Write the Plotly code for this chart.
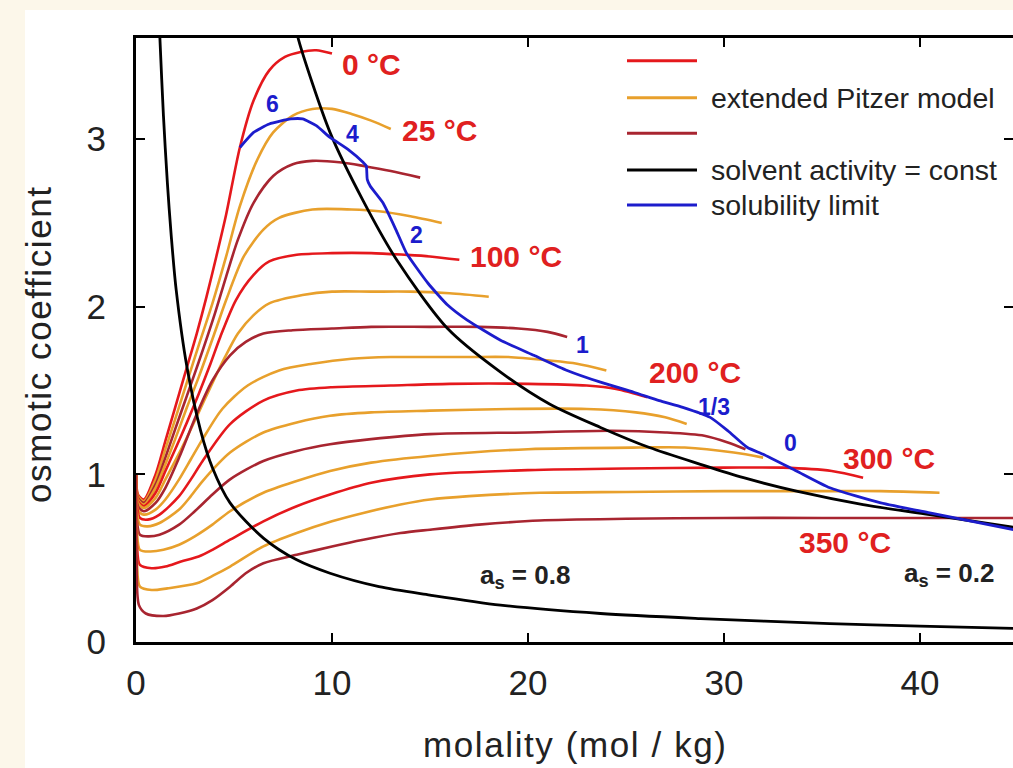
import plotly.graph_objects as go

# ---------------- data ----------------
temps_c = [0, 25, 50, 75, 100, 125, 150, 175, 200, 225, 250, 275, 300, 325, 350]

m_t0 = [0, 0.1, 0.4, 1.0, 1.5, 2.0, 2.6, 3.1, 3.6, 4.1, 4.6, 5.3, 6.0, 6.8, 7.6, 8.4, 9.2, 10.0]
phi_t0 = [1.0, 0.88, 0.85, 1.0, 1.2, 1.40, 1.64, 1.84, 2.06, 2.30, 2.55, 2.95, 3.23, 3.41, 3.49, 3.52, 3.53, 3.51]

m_t25 = [0, 0.1, 0.4, 1.0, 1.5, 2.0, 2.6, 3.2, 3.9, 4.6, 5.3, 6.2, 7.0, 8.0, 9.0, 10.0, 11.0, 12.0, 13.0]
phi_t25 = [1.0, 0.87, 0.84, 0.97, 1.15, 1.33, 1.55, 1.77, 2.02, 2.30, 2.60, 2.88, 3.04, 3.14, 3.18, 3.18, 3.15, 3.11, 3.06]

m_t50 = [0, 0.1, 0.4, 1.0, 1.5, 2.0, 2.6, 3.2, 4.0, 4.6, 5.2, 6.0, 7.0, 8.0, 9.0, 10.5, 11.6, 13.0, 14.5]
phi_t50 = [1.0, 0.86, 0.83, 0.94, 1.10, 1.27, 1.47, 1.67, 1.95, 2.18, 2.40, 2.62, 2.78, 2.85, 2.87, 2.86, 2.84, 2.81, 2.77]

m_t75 = [0, 0.1, 0.4, 1.0, 1.5, 2.0, 2.6, 3.2, 4.0, 4.6, 5.5, 6.5, 7.3, 9.0, 11.0, 12.4, 14.0, 15.6]
phi_t75 = [1.0, 0.85, 0.82, 0.92, 1.06, 1.21, 1.40, 1.58, 1.84, 2.04, 2.30, 2.46, 2.53, 2.58, 2.58, 2.57, 2.54, 2.50]

m_t100 = [0, 0.1, 0.4, 1.0, 1.5, 2.0, 2.6, 3.2, 3.8, 4.3, 5.1, 6.0, 6.8, 8.2, 10, 12, 13.7, 15.0, 16.5]
phi_t100 = [1.0, 0.84, 0.81, 0.89, 1.02, 1.15, 1.31, 1.48, 1.66, 1.82, 2.04, 2.19, 2.27, 2.31, 2.32, 2.32, 2.31, 2.30, 2.28]

m_t125 = [0, 0.1, 0.4, 1.0, 1.5, 2.0, 2.6, 3.2, 3.8, 4.5, 5.2, 6.0, 6.8, 8.5, 10, 12, 14, 16, 18]
phi_t125 = [1.0, 0.83, 0.80, 0.86, 0.97, 1.08, 1.22, 1.37, 1.52, 1.69, 1.84, 1.95, 2.02, 2.07, 2.09, 2.09, 2.09, 2.08, 2.06]

m_t150 = [0, 0.1, 0.4, 1.0, 1.5, 2.2, 3.1, 3.9, 4.8, 5.6, 6.5, 8.0, 10, 12, 15, 17.5, 19.5, 21, 22]
phi_t150 = [1.0, 0.81, 0.78, 0.83, 0.92, 1.10, 1.36, 1.56, 1.71, 1.79, 1.84, 1.86, 1.87, 1.88, 1.88, 1.88, 1.87, 1.85, 1.82]

m_t175 = [0, 0.1, 0.4, 1.0, 1.5, 2.2, 2.8, 3.4, 4.4, 5.7, 7.3, 9.0, 11, 13, 15, 17, 19, 21, 22.5, 24]
phi_t175 = [1.0, 0.79, 0.76, 0.79, 0.85, 0.97, 1.09, 1.21, 1.39, 1.53, 1.62, 1.66, 1.69, 1.70, 1.70, 1.70, 1.70, 1.68, 1.66, 1.62]

m_t200 = [0, 0.05, 0.2, 0.6, 1.2, 2.2, 2.8, 3.4, 4.8, 6.5, 8.2, 10, 13, 16, 20, 23, 24.5, 26.1]
phi_t200 = [1.0, 0.81, 0.74, 0.73, 0.76, 0.87, 0.97, 1.08, 1.30, 1.44, 1.50, 1.52, 1.53, 1.54, 1.54, 1.53, 1.51, 1.46]

m_t225 = [0, 0.05, 0.2, 0.6, 1.2, 2.2, 2.8, 3.4, 4.8, 6.5, 8.2, 9.9, 12, 15, 19, 23, 25.5, 27, 28.1]
phi_t225 = [1.0, 0.77, 0.70, 0.69, 0.71, 0.79, 0.87, 0.96, 1.13, 1.25, 1.31, 1.35, 1.37, 1.38, 1.39, 1.39, 1.37, 1.34, 1.30]

m_t250 = [0, 0.05, 0.2, 0.6, 1.2, 2.2, 3.0, 3.9, 4.8, 6.5, 8.2, 9.9, 12, 15, 20, 24.3, 27, 29, 30.2, 31.1]
phi_t250 = [1.0, 0.72, 0.64, 0.63, 0.64, 0.70, 0.78, 0.88, 0.97, 1.08, 1.14, 1.18, 1.21, 1.24, 1.25, 1.26, 1.25, 1.23, 1.19, 1.15]

m_t275 = [0, 0.05, 0.2, 0.7, 1.4, 2.2, 3.0, 3.9, 4.8, 6.5, 8.2, 9.9, 12, 15, 20, 25.7, 28, 30.5, 32]
phi_t275 = [1.0, 0.66, 0.55, 0.54, 0.55, 0.58, 0.63, 0.70, 0.78, 0.89, 0.96, 1.02, 1.07, 1.11, 1.15, 1.16, 1.16, 1.13, 1.10]

m_t300 = [0, 0.05, 0.2, 0.8, 1.5, 2.3, 3.2, 3.9, 4.8, 6.5, 8.2, 9.9, 12, 15, 20, 25, 30, 33, 35.5, 37.1]
phi_t300 = [1.0, 0.58, 0.46, 0.44, 0.45, 0.48, 0.51, 0.55, 0.61, 0.72, 0.81, 0.88, 0.95, 1.0, 1.025, 1.035, 1.04, 1.04, 1.02, 0.98]

m_t325 = [0, 0.05, 0.2, 0.8, 1.6, 3.1, 4.0, 4.8, 6.5, 8.2, 10, 11.6, 13.5, 15, 17, 20.6, 25, 30, 35, 38, 41]
phi_t325 = [1.0, 0.48, 0.33, 0.31, 0.32, 0.35, 0.40, 0.45, 0.57, 0.65, 0.72, 0.77, 0.82, 0.85, 0.87, 0.89, 0.895, 0.90, 0.90, 0.90, 0.89]

m_t350 = [0, 0.03, 0.15, 0.5, 1.4, 2.2, 3.1, 3.9, 4.8, 5.6, 6.5, 8.2, 10, 11.6, 13.5, 15, 17.5, 20.6, 25, 30, 35, 40, 45]
phi_t350 = [1.0, 0.5, 0.22, 0.17, 0.155, 0.17, 0.20, 0.25, 0.33, 0.41, 0.47, 0.52, 0.57, 0.61, 0.65, 0.67, 0.70, 0.725, 0.735, 0.74, 0.74, 0.74, 0.74]

# solvent activity = const (a_s = 0.8 and a_s = 0.2)
m_as08 = [1.17, 1.22, 1.4, 1.6, 1.8, 2.05, 2.6, 3.3, 3.9, 4.8, 6.5, 8.2, 9.9, 12.4, 15, 18.6, 23.7, 28.8, 35.4, 40, 45]
phi_as08 = [3.75, 3.6, 3.14, 2.74, 2.42, 2.10, 1.64, 1.26, 1.04, 0.83, 0.62, 0.49, 0.41, 0.33, 0.28, 0.22, 0.17, 0.14, 0.11, 0.095, 0.08]

m_as02 = [8.1, 8.3, 9.9, 11.6, 13.3, 15.9, 18.6, 21.1, 23.7, 26.2, 28.8, 31.0, 33.7, 37.1, 40.5, 45]
phi_as02 = [3.7, 3.59, 3.04, 2.63, 2.28, 1.87, 1.61, 1.42, 1.28, 1.16, 1.06, 0.98, 0.90, 0.82, 0.76, 0.68]

# solubility limit
m_sol = [5.3, 6.0, 6.8, 7.9, 8.5, 9.2, 9.9, 10.8, 11.6, 11.75, 11.8, 11.95, 12.6, 13.3, 13.8, 14.9, 15.9,
         16.9, 18.6, 20.3, 22.0, 23.7, 25.4, 26.7, 27.9, 29.3, 30.2, 31.2, 32.0, 33.7, 35.4, 38.0, 40.5, 45]
phi_sol = [2.95, 3.04, 3.09, 3.12, 3.12, 3.08, 3.01, 2.94, 2.86, 2.84, 2.76, 2.72, 2.62, 2.45, 2.32, 2.14, 2.01,
           1.92, 1.80, 1.71, 1.62, 1.55, 1.49, 1.44, 1.40, 1.34, 1.26, 1.16, 1.12, 1.02, 0.92, 0.83, 0.77, 0.665]

# labels
temp_label_text = ["0 °C", "25 °C", "100 °C", "200 °C", "300 °C", "350 °C"]
temp_label_m = [12.04, 15.5, 19.4, 28.5, 38.4, 36.2]
temp_label_phi = [3.443, 3.05, 2.30, 1.61, 1.095, 0.596]

sol_label_text = ["6", "4", "2", "1", "1/3", "0"]
sol_label_m = [6.94, 11.07, 14.3, 22.8, 29.5, 33.4]
sol_label_phi = [3.21, 3.03, 2.43, 1.77, 1.40, 1.19]

as_label_text = ["a<sub>s</sub> = 0.8", "a<sub>s</sub> = 0.2"]
as_label_m = [19.85, 41.5]
as_label_phi = [0.39, 0.40]

legend_text = ["", "extended Pitzer model", "", "solvent activity = const", "solubility limit"]

x_ticks = [0, 10, 20, 30, 40]
y_ticks = [0, 1, 2, 3]

# ---------------- styles ----------------
RED = "#e5181c"
ORANGE = "#e8a02c"
DARKRED = "#a82530"
BLUE = "#1c1ccc"
BLACK = "#000000"
LABEL_RED = "#e02020"
TEXT = "#222222"
FONT = "Liberation Sans, Arial, sans-serif"

curve_m = [m_t0, m_t25, m_t50, m_t75, m_t100, m_t125, m_t150, m_t175,
           m_t200, m_t225, m_t250, m_t275, m_t300, m_t325, m_t350]
curve_phi = [phi_t0, phi_t25, phi_t50, phi_t75, phi_t100, phi_t125, phi_t150, phi_t175,
             phi_t200, phi_t225, phi_t250, phi_t275, phi_t300, phi_t325, phi_t350]
cycle = [RED, ORANGE, DARKRED, ORANGE]

fig = go.Figure()

for i, (t, mx, ph) in enumerate(zip(temps_c, curve_m, curve_phi)):
    fig.add_trace(go.Scatter(x=mx, y=ph, mode="lines", name=f"{t} °C",
                             line=dict(color=cycle[i % 4], width=2.6, shape="spline", smoothing=0.8),
                             showlegend=False, hoverinfo="skip"))

for mx, ph in [(m_as08, phi_as08), (m_as02, phi_as02)]:
    fig.add_trace(go.Scatter(x=mx, y=ph, mode="lines",
                             line=dict(color=BLACK, width=2.8, shape="spline", smoothing=0.8),
                             showlegend=False, hoverinfo="skip"))

fig.add_trace(go.Scatter(x=m_sol, y=phi_sol, mode="lines",
                         line=dict(color=BLUE, width=2.8, shape="spline", smoothing=0.5),
                         showlegend=False, hoverinfo="skip"))

# helper trace for the right-hand y axis (ticks only)
fig.add_trace(go.Scatter(x=[None], y=[None], yaxis="y2", showlegend=False, hoverinfo="skip"))

# ---------------- layout geometry ----------------
W, H = 1013, 768
ML, MR, MT, MB = 136, 0, 38, 126
PW, PH = W - ML - MR, H - MT - MB


def px_to_paper_x(px):
    return (px - ML) / PW


def px_to_paper_y(py):
    return (H - MB - py) / PH


shapes = []
# white panel over cream background
shapes.append(dict(type="rect", xref="paper", yref="paper", layer="below",
                   x0=px_to_paper_x(25), x1=px_to_paper_x(1040),
                   y0=px_to_paper_y(800), y1=px_to_paper_y(10),
                   fillcolor="white", line=dict(width=0)))

annotations = []
# manual legend
leg_colors = [RED, ORANGE, DARKRED, BLACK, BLUE]
leg_y = [60.7, 97.7, 133.3, 170, 205]
for txt, col, ly in zip(legend_text, leg_colors, leg_y):
    shapes.append(dict(type="line", xref="paper", yref="paper",
                       x0=px_to_paper_x(627), x1=px_to_paper_x(697),
                       y0=px_to_paper_y(ly), y1=px_to_paper_y(ly),
                       line=dict(color=col, width=3)))
    if txt:
        annotations.append(dict(xref="paper", yref="paper", x=px_to_paper_x(709), y=px_to_paper_y(ly),
                                text=txt, showarrow=False, xanchor="left", yanchor="middle",
                                font=dict(family=FONT, size=28.5, color=TEXT)))

for txt, mx, ph in zip(temp_label_text, temp_label_m, temp_label_phi):
    annotations.append(dict(x=mx, y=ph, text=f"<b>{txt}</b>", showarrow=False,
                            xanchor="center", yanchor="middle",
                            font=dict(family=FONT, size=30, color=LABEL_RED)))

for txt, mx, ph in zip(sol_label_text, sol_label_m, sol_label_phi):
    annotations.append(dict(x=mx, y=ph, text=f"<b>{txt}</b>", showarrow=False,
                            xanchor="center", yanchor="middle",
                            font=dict(family=FONT, size=23, color=BLUE)))

for txt, mx, ph in zip(as_label_text, as_label_m, as_label_phi):
    annotations.append(dict(x=mx, y=ph, text=f"<b>{txt}</b>", showarrow=False,
                            xanchor="center", yanchor="middle",
                            font=dict(family=FONT, size=26, color=TEXT)))

# axis titles
annotations.append(dict(xref="paper", yref="paper", x=px_to_paper_x(575), y=px_to_paper_y(744),
                        text='<span style="letter-spacing:1.6px">molality (mol / kg)</span>',
                        showarrow=False, xanchor="center", yanchor="middle",
                        font=dict(family=FONT, size=35, color=TEXT)))
annotations.append(dict(xref="paper", yref="paper", x=px_to_paper_x(38), y=px_to_paper_y(344),
                        text='<span style="letter-spacing:1.6px">osmotic coefficient</span>',
                        showarrow=False, xanchor="center", yanchor="middle", textangle=-90,
                        font=dict(family=FONT, size=35, color=TEXT)))

yrange = [0, 3.603]
fig.update_layout(
    width=W, height=H,
    margin=dict(l=ML, r=MR, t=MT, b=MB, pad=0),
    paper_bgcolor="#fcf7ea",
    plot_bgcolor="white",
    showlegend=False,
    shapes=shapes,
    annotations=annotations,
    xaxis=dict(range=[0, 44.75], tickvals=x_ticks, ticktext=[str(v) for v in x_ticks],
               ticks="inside", ticklen=9, tickwidth=2.2, tickcolor="black",
               showline=True, linewidth=3, linecolor="black", mirror="ticks",
               showgrid=False, zeroline=False, ticklabelstandoff=8,
               tickfont=dict(family=FONT, size=35, color=TEXT)),
    yaxis=dict(range=yrange, tickvals=y_ticks, ticktext=[str(v) for v in y_ticks],
               ticks="inside", ticklen=9, tickwidth=2.2, tickcolor="black",
               showline=True, linewidth=3, linecolor="black",
               showgrid=False, zeroline=False, ticklabelstandoff=20,
               tickfont=dict(family=FONT, size=35, color=TEXT)),
    yaxis2=dict(range=yrange, overlaying="y", side="right", tickvals=y_ticks,
                ticks="inside", ticklen=9, tickwidth=2.2, tickcolor="black",
                showticklabels=False, showline=False, showgrid=False, zeroline=False),
)

fig.write_html("out.html", config={"displayModeBar": False},
               post_script="document.body.style.margin='0';document.body.style.overflow='hidden';")
